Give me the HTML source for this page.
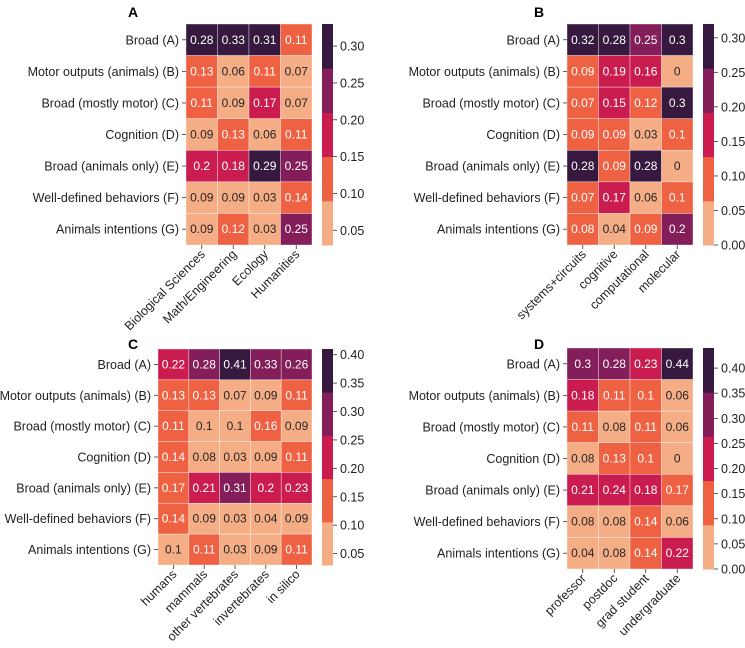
<!DOCTYPE html>
<html><head><meta charset="utf-8"><style>
body{margin:0;background:#fff;}
svg{display:block;font-family:"Liberation Sans",sans-serif;}
</style></head><body>
<svg id="fig" width="745" height="648" viewBox="0 0 745 648"></svg>
<script>
const rowLabels = ["Broad (A)","Motor outputs (animals) (B)","Broad (mostly motor) (C)","Cognition (D)","Broad (animals only) (E)","Well-defined behaviors (F)","Animals intentions (G)"];
const colsA = ["Biological Sciences","Math/Engineering","Ecology","Humanities"];
const valsA = [[0.28,0.33,0.31,0.11],[0.13,0.06,0.11,0.07],[0.11,0.09,0.17,0.07],[0.09,0.13,0.06,0.11],[0.2,0.18,0.29,0.25],[0.09,0.09,0.03,0.14],[0.09,0.12,0.03,0.25]];
const ticksA = [0.05,0.10,0.15,0.20,0.25,0.30];
const colsB = ["systems+circuits","cognitive","computational","molecular"];
const valsB = [[0.32,0.28,0.25,0.3],[0.09,0.19,0.16,0],[0.07,0.15,0.12,0.3],[0.09,0.09,0.03,0.1],[0.28,0.09,0.28,0],[0.07,0.17,0.06,0.1],[0.08,0.04,0.09,0.2]];
const ticksB = [0.00,0.05,0.10,0.15,0.20,0.25,0.30];
const colsC = ["humans","mammals","other vertebrates","invertebrates","in silico"];
const valsC = [[0.22,0.28,0.41,0.33,0.26],[0.13,0.13,0.07,0.09,0.11],[0.11,0.1,0.1,0.16,0.09],[0.14,0.08,0.03,0.09,0.11],[0.17,0.21,0.31,0.2,0.23],[0.14,0.09,0.03,0.04,0.09],[0.1,0.11,0.03,0.09,0.11]];
const ticksC = [0.05,0.10,0.15,0.20,0.25,0.30,0.35,0.40];
const colsD = ["professor","postdoc","grad student","undergraduate"];
const valsD = [[0.3,0.28,0.23,0.44],[0.18,0.11,0.1,0.06],[0.11,0.08,0.11,0.06],[0.08,0.13,0.1,0],[0.21,0.24,0.18,0.17],[0.08,0.08,0.14,0.06],[0.04,0.08,0.14,0.22]];
const ticksD = [0.00,0.05,0.10,0.15,0.20,0.25,0.30,0.35,0.40];
const palette = ["#f5ad85","#ef6143","#cb1c4f","#841e5a","#37193f"];

const NS="http://www.w3.org/2000/svg";
const svg=document.getElementById("fig");
function mk(tag,attrs,parent){const e=document.createElementNS(NS,tag);for(const k in attrs)e.setAttribute(k,attrs[k]);(parent||svg).appendChild(e);return e;}

function panel(id,title,cols,vals,ticks,box){
  const g=mk("g",{});
  
  
  let all=[].concat(...vals);
  const vmin=Math.min(...all), vmax=Math.max(...all);
  const nR=vals.length,nC=cols.length;
  const cw=(box.x1-box.x0)/nC, rh=(box.y1-box.y0)/nR;
  const xS=j=>box.x0+j*cw, yS=i=>box.y0+i*rh;
  const bin=v=>{let k=Math.floor((v-vmin)/(vmax-vmin)*5);return Math.max(0,Math.min(4,k));};
  const t=mk("text",{x:box.tx,y:box.ty,"font-size":14,"font-weight":"bold",fill:"#000"},g);
  t.textContent=title;
  
  
  for(let i=0;i<nR;i++){for(let j=0;j<nC;j++){
    const v=vals[i][j],b=bin(v);
    const r=mk("rect",{x:xS(j),y:yS(i),width:cw,height:rh,fill:palette[b],stroke:"#fff","stroke-width":0.6,"stroke-opacity":0.6},g);
    
    
    const tx=mk("text",{x:xS(j)+cw/2,y:yS(i)+rh/2+4,"text-anchor":"middle","font-size":12,fill:b===0?"#262626":"#fff"},g);
    tx.textContent=String(v);
    
    
  }}
  rowLabels.forEach((lab,i)=>{
    const y=yS(i)+rh/2;
    mk("line",{x1:box.x0-4,x2:box.x0,y1:y,y2:y,stroke:"#333","stroke-width":0.8},g);
    const tl=mk("text",{x:box.x0-7,y:y+4.5,"text-anchor":"end","font-size":12.5,fill:"#222"},g);
    tl.textContent=lab;
    
    
  });
  cols.forEach((lab,j)=>{
    const x=xS(j)+cw/2;
    mk("line",{x1:x,x2:x,y1:box.y1,y2:box.y1+4,stroke:"#333","stroke-width":0.8},g);
    const ax=x+4, ay=box.y1+10;
    const tl=mk("text",{x:ax,y:ay,"text-anchor":"end","font-size":12.5,fill:"#222",transform:`rotate(-45 ${ax} ${ay})`},g);
    tl.textContent=lab;
    
    
  });
  const ch=box.y1-box.y0;
  const cy=v=>box.y1-(v-vmin)/(vmax-vmin)*ch;
  for(let k=0;k<5;k++){
    const r=mk("rect",{x:box.cx,y:box.y1-(k+1)*ch/5,width:11,height:ch/5+0.5,fill:palette[k]},g);
    
    
  }
  ticks.forEach(v=>{
    const y=cy(v);
    mk("line",{x1:box.cx+11,x2:box.cx+15,y1:y,y2:y,stroke:"#333","stroke-width":0.8},g);
    const tl=mk("text",{x:box.cx+18,y:y+4.5,"font-size":12.5,fill:"#222"},g);
    tl.textContent=v.toFixed(2);
    
    
  });
}
panel("a","A",colsA,valsA,ticksA,{x0:186,x1:312,y0:24,y1:245,cx:322,tx:128,ty:17});
panel("b","B",colsB,valsB,ticksB,{x0:567,x1:693,y0:24,y1:245,cx:703,tx:534,ty:17});
panel("c","C",colsC,valsC,ticksC,{x0:158,x1:312,y0:349,y1:565,cx:322,tx:128,ty:349});
panel("d","D",colsD,valsD,ticksD,{x0:567,x1:693,y0:348,y1:569,cx:703,tx:534,ty:349});
</script>
</body></html>
